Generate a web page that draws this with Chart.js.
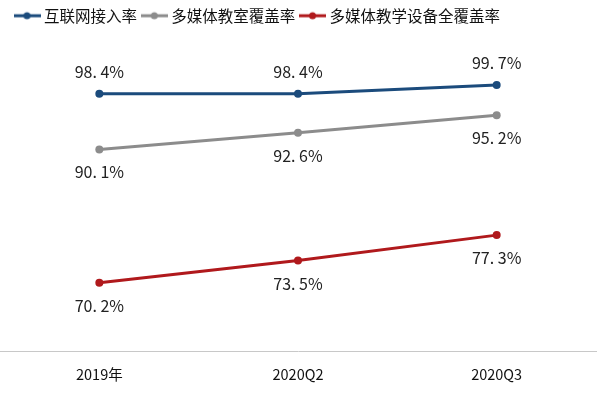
<!DOCTYPE html>
<html>
<head>
<meta charset="utf-8">
<script src="https://cdn.jsdelivr.net/npm/chart.js@4/dist/chart.umd.min.js"></script>
<style>
html,body{margin:0;padding:0;background:#fff;}
#wrap{width:600px;height:394px;position:relative;}
</style>
</head>
<body>
<div id="wrap"><canvas id="c" width="600" height="394"></canvas></div>
<script>
const categories = ['2019年', '2020Q2', '2020Q3'];
const seriesNames = ['互联网接入率', '多媒体教室覆盖率', '多媒体教学设备全覆盖率'];
const internetRate = [98.4, 98.4, 99.7];
const classroomRate = [90.1, 92.6, 95.2];
const equipmentRate = [70.2, 73.5, 77.3];
const colors = ['#1b4b7c', '#8c8c8c', '#b0191c'];
const labelSide = ['above', 'below', 'below'];

function legendMarker(color) {
  const c = document.createElement('canvas');
  c.width = 27; c.height = 10;
  const x = c.getContext('2d');
  x.strokeStyle = color; x.lineWidth = 3;
  x.beginPath(); x.moveTo(0, 5); x.lineTo(27, 5); x.stroke();
  x.fillStyle = color;
  x.beginPath(); x.arc(13.5, 5, 3.5, 0, Math.PI * 2); x.fill();
  return c;
}
const markers = colors.map(legendMarker);

const valueLabels = {
  id: 'valueLabels',
  afterDatasetsDraw(chart) {
    const ctx = chart.ctx;
    ctx.save();
    ctx.font = '16px "Noto Sans CJK SC", "DejaVu Sans", sans-serif';
    ctx.fillStyle = '#222';
    ctx.textAlign = 'center';
    ctx.textBaseline = 'middle';
    chart.data.datasets.forEach((ds, i) => {
      const meta = chart.getDatasetMeta(i);
      meta.data.forEach((pt, j) => {
        const v = ds.data[j];
        const txt = v.toFixed(1).replace('.', '. ') + '%';
        const dy = labelSide[i] === 'above' ? -22 : 23;
        ctx.fillText(txt, pt.x, pt.y + dy);
      });
    });
    ctx.restore();
  }
};

const legendShift = {
  id: 'legendShift',
  afterLayout(chart) {
    const l = chart.legend;
    if (l) { l.left += 12.75; l.right += 12.75; }
  }
};

const datasets = [internetRate, classroomRate, equipmentRate].map((d, i) => ({
  label: seriesNames[i],
  data: d,
  borderColor: colors[i],
  backgroundColor: colors[i],
  borderWidth: 3,
  pointRadius: 4,
  pointHoverRadius: 4,
  pointBackgroundColor: colors[i],
  pointBorderWidth: 0,
  tension: 0,
  fill: false
}));

new Chart(document.getElementById('c'), {
  type: 'line',
  data: { labels: categories, datasets },
  options: {
    responsive: false,
    animation: false,
    devicePixelRatio: 1,
    layout: { autoPadding: false, padding: { left: -3, right: 4, top: 0, bottom: -4.4 } },
    plugins: {
      tooltip: { enabled: false },
      legend: {
        position: 'top',
        align: 'start',
        labels: {
          usePointStyle: true,
          pointStyleWidth: 18.5,
          padding: 8,
          color: '#111',
          font: { family: '"Noto Sans CJK SC", sans-serif', size: 15.5 },
          generateLabels(chart) {
            return chart.data.datasets.map((ds, i) => ({
              text: ds.label,
              pointStyle: markers[i],
              fillStyle: colors[i],
              strokeStyle: colors[i],
              lineWidth: 0,
              hidden: false,
              datasetIndex: i,
              fontColor: '#111'
            }));
          }
        }
      }
    },
    scales: {
      x: {
        offset: true,
        grid: { display: false, drawTicks: false },
        border: { display: true, color: '#c8c8c8', width: 1 },
        ticks: {
          padding: 15,
          color: '#111',
          font: { family: '"Noto Sans CJK SC", sans-serif', size: 14.5 }
        }
      },
      y: {
        display: false,
        min: 60,
        max: 107.4
      }
    }
  },
  plugins: [valueLabels, legendShift]
});
</script>
</body>
</html>
